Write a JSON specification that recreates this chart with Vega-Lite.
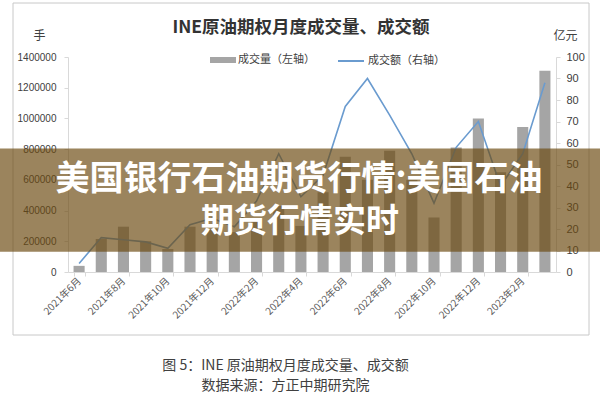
{
  "$schema": "https://vega.github.io/schema/vega-lite/v6.json",
  "width": 488,
  "height": 215,
  "autosize": {"type": "none"},
  "padding": {"left": 68, "top": 57, "right": 44, "bottom": 128},
  "background": "white",
  "title": {
    "text": "INE原油期权月度成交量、成交额",
    "font": "Noto Sans CJK SC",
    "fontSize": 17.5,
    "fontWeight": "bold",
    "color": "#333333",
    "anchor": "middle",
    "dx": -11,
    "dy": 34,
    "offset": 0
  },
  "config": {
    "view": {"stroke": null},
    "axis": {"grid": false, "domainColor": "#D9D9D9", "tickColor": "#D9D9D9", "labelColor": "#404040", "titleColor": "#404040"},
    "legend": {"labelFont": "Noto Sans CJK SC", "labelFontSize": 11, "labelColor": "#404040", "padding": 0, "titleFontSize": 0}
  },
  "data": {
    "values": [
      {"month": "2021年6月", "volume": 40000, "amount": 4},
      {"month": "2021年7月", "volume": 215000, "amount": 16},
      {"month": "2021年8月", "volume": 295000, "amount": 15},
      {"month": "2021年9月", "volume": 200000, "amount": 14},
      {"month": "2021年10月", "volume": 150000, "amount": 11},
      {"month": "2021年11月", "volume": 295000, "amount": 22},
      {"month": "2021年12月", "volume": 280000, "amount": 25},
      {"month": "2022年1月", "volume": 260000, "amount": 21},
      {"month": "2022年2月", "volume": 330000, "amount": 33},
      {"month": "2022年3月", "volume": 430000, "amount": 55},
      {"month": "2022年4月", "volume": 300000, "amount": 35},
      {"month": "2022年5月", "volume": 520000, "amount": 45},
      {"month": "2022年6月", "volume": 750000, "amount": 77},
      {"month": "2022年7月", "volume": 600000, "amount": 90},
      {"month": "2022年8月", "volume": 790000, "amount": 73},
      {"month": "2022年9月", "volume": 600000, "amount": 55},
      {"month": "2022年10月", "volume": 355000, "amount": 32},
      {"month": "2022年11月", "volume": 810000, "amount": 58},
      {"month": "2022年12月", "volume": 1000000, "amount": 70},
      {"month": "2023年1月", "volume": 650000, "amount": 40},
      {"month": "2023年2月", "volume": 945000, "amount": 55},
      {"month": "2023年3月", "volume": 1310000, "amount": 88}
    ]
  },
  "layer": [
    {
      "mark": {"type": "bar"},
      "encoding": {
        "x": {
          "field": "month", "type": "nominal", "sort": null,
          "scale": {"paddingInner": 0.5, "paddingOuter": 0.25},
          "axis": {
            "values": ["2021年6月", "2021年8月", "2021年10月", "2021年12月", "2022年2月", "2022年4月", "2022年6月", "2022年8月", "2022年10月", "2022年12月", "2023年2月"],
            "tickBand": "extent",
            "labelAngle": -45,
            "labelAlign": "right",
            "labelBaseline": "middle",
            "labelFont": "Noto Sans CJK SC",
            "labelFontSize": 10,
            "labelColor": "#595959",
            "labelPadding": 3,
            "tickSize": 4,
            "title": ["图 5：INE 原油期权月度成交量、成交额", "数据来源：方正中期研究院"],
            "titleX": 217,
            "titleY": 86,
            "titleAlign": "center",
            "titleBaseline": "top",
            "titleFont": "Noto Sans CJK SC",
            "titleFontSize": 14,
            "titleFontWeight": "normal",
            "titleLineHeight": 20,
            "titleColor": "#404040"
          }
        },
        "y": {
          "field": "volume", "type": "quantitative",
          "scale": {"domain": [0, 1400000]},
          "axis": {
            "orient": "left",
            "values": [0, 200000, 400000, 600000, 800000, 1000000, 1200000, 1400000],
            "format": "d",
            "tickSize": 4,
            "labelPadding": 8,
            "labelFont": "Liberation Sans",
            "labelFontSize": 10,
            "title": "手",
            "titleAngle": 0,
            "titleX": -29,
            "titleY": -22,
            "titleAlign": "center",
            "titleBaseline": "middle",
            "titleFont": "Noto Sans CJK SC",
            "titleFontSize": 12,
            "titleFontWeight": "normal"
          }
        },
        "fill": {
          "datum": "成交量（左轴）",
          "scale": {"range": ["#A5A5A5"]},
          "legend": {
            "orient": "none", "legendX": 142, "legendY": -10,
            "symbolType": "M-1,-0.23H1V0.23H-1Z", "symbolSize": 676,
            "symbolStrokeWidth": 0, "labelOffset": 2, "title": null
          }
        }
      }
    },
    {
      "mark": {"type": "line", "strokeWidth": 1.6},
      "encoding": {
        "x": {"field": "month", "type": "nominal", "sort": null},
        "y": {
          "field": "amount", "type": "quantitative",
          "scale": {"domain": [0, 100]},
          "axis": {
            "orient": "right",
            "values": [0, 10, 20, 30, 40, 50, 60, 70, 80, 90, 100],
            "tickSize": 4,
            "labelPadding": 6,
            "labelFont": "Liberation Sans",
            "labelFontSize": 11,
            "title": "亿元",
            "titleAngle": 0,
            "titleX": 9,
            "titleY": -22,
            "titleAlign": "center",
            "titleBaseline": "middle",
            "titleFont": "Noto Sans CJK SC",
            "titleFontSize": 12,
            "titleFontWeight": "normal"
          }
        },
        "stroke": {
          "datum": "成交额（右轴）",
          "scale": {"range": ["#6A9BCF"]},
          "legend": {
            "orient": "none", "legendX": 269, "legendY": -10,
            "symbolType": "M-1,0H1", "symbolSize": 676,
            "symbolStrokeWidth": 2, "labelOffset": 3, "title": null
          }
        }
      }
    },
    {
      "data": {"values": [{}]},
      "mark": {"type": "rect", "filled": false, "stroke": "#C8C8C8", "strokeWidth": 1, "xOffset": -55, "x2Offset": 33, "yOffset": -54, "y2Offset": 63},
      "encoding": {
        "x": {"value": 0},
        "x2": {"value": "width"},
        "y": {"datum": 1400000, "type": "quantitative", "scale": {"domain": [0, 1400000]}, "axis": null},
        "y2": {"datum": 0}
      }
    },
    {
      "data": {"values": [{}]},
      "mark": {"type": "rect", "color": "#6B4A10", "opacity": 0.68, "xOffset": -68, "x2Offset": 44},
      "encoding": {
        "x": {"value": 0},
        "x2": {"value": "width"},
        "y": {"datum": 805000, "type": "quantitative", "scale": {"domain": [0, 1400000]}, "axis": null},
        "y2": {"datum": 132000}
      }
    },
    {
      "data": {"values": [{}]},
      "mark": {"type": "text", "color": "white", "font": "Noto Sans CJK SC", "fontWeight": "bold", "fontSize": 34, "baseline": "middle", "align": "center", "dx": -13},
      "encoding": {
        "y": {"datum": 599000, "type": "quantitative", "scale": {"domain": [0, 1400000]}, "axis": null},
        "text": {"value": "美国银行石油期货行情:美国石油"}
      }
    },
    {
      "data": {"values": [{}]},
      "mark": {"type": "text", "color": "white", "font": "Noto Sans CJK SC", "fontWeight": "bold", "fontSize": 33, "baseline": "middle", "align": "center", "dx": -12},
      "encoding": {
        "y": {"datum": 325000, "type": "quantitative", "scale": {"domain": [0, 1400000]}, "axis": null},
        "text": {"value": "期货行情实时"}
      }
    }
  ],
  "resolve": {"scale": {"y": "independent"}}
}
